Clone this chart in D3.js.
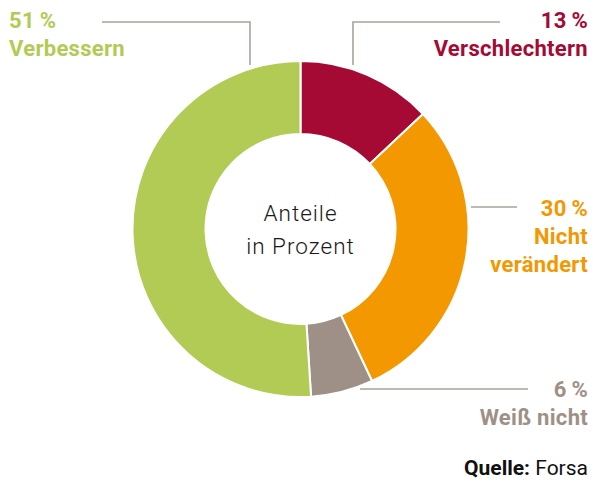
<!DOCTYPE html>
<html lang="de">
<head>
<meta charset="utf-8">
<script src="https://cdn.jsdelivr.net/npm/d3@7"></script>
<style>
  html, body { margin: 0; padding: 0; background: #fff; }
  svg { display: block; font-family: Roboto, "Liberation Sans", Arial, sans-serif; }
</style>
</head>
<body>
<svg id="chart" width="593" height="482"></svg>
<script>
// Survey shares, clockwise from 12 o'clock
const categories = ["Verschlechtern", "Nicht verändert", "Weiß nicht", "Verbessern"];
const shares = [13, 30, 6, 51];
const colors = ["#a50a35", "#f39800", "#9e9087", "#b1cb55"];
const labelLines = [["Verschlechtern"], ["Nicht", "verändert"], ["Weiß nicht"], ["Verbessern"]];

const svg = d3.select("#chart");
const cx = 300.5, cy = 229, outerR = 168, innerR = 95;

const pie = d3.pie().sort(null).value(d => d.value);
const arcs = pie(categories.map((c, i) => ({ name: c, value: shares[i], color: colors[i], lines: labelLines[i] })));
const arc = d3.arc().innerRadius(innerR).outerRadius(outerR);

const g = svg.append("g").attr("transform", `translate(${cx},${cy})`);
g.selectAll("path.slice")
  .data(arcs)
  .join("path")
  .attr("class", "slice")
  .attr("d", arc)
  .attr("fill", d => d.data.color)
  .attr("stroke", "#fff")
  .attr("stroke-width", 2);

// Centre caption
const centre = g.append("text")
  .attr("text-anchor", "middle")
  .attr("font-size", 22.5)
  .attr("font-weight", 300)
  .attr("letter-spacing", 1)
  .attr("fill", "#1a1a1a");
centre.append("tspan").attr("x", 0).attr("y", -8).text("Anteile");
centre.append("tspan").attr("x", 0).attr("y", 25).text("in Prozent");

// Leader lines (absolute page coordinates)
const lineColor = "#aaa29b";
const leaders = [
  [[500, 22], [353, 22], [353, 65]],     // Verschlechtern
  [[517, 207], [471, 207]],              // Nicht verändert
  [[528, 389], [360, 389]],              // Weiß nicht
  [[102, 22], [250, 22], [250, 65]]      // Verbessern
];
svg.selectAll("path.leader")
  .data(leaders)
  .join("path")
  .attr("class", "leader")
  .attr("d", d3.line())
  .attr("fill", "none")
  .attr("stroke", lineColor)
  .attr("stroke-width", 1.6);

// Outside labels: percentage + category
const labelPos = [
  { x: 588, y: 28, anchor: "end" },
  { x: 588, y: 216, anchor: "end" },
  { x: 588, y: 397, anchor: "end" },
  { x: 9, y: 28, anchor: "start" }
];
arcs.forEach((a, i) => {
  const p = labelPos[i];
  const t = svg.append("text")
    .attr("text-anchor", p.anchor)
    .attr("font-size", 22)
    .attr("font-weight", 700)
    .attr("letter-spacing", 0.3)
    .attr("fill", a.data.color);
  t.append("tspan").attr("x", p.x).attr("y", p.y).text(a.data.value + "\u2009%");
  a.data.lines.forEach((ln, k) => {
    t.append("tspan").attr("x", p.x).attr("y", p.y + 28 * (k + 1)).text(ln);
  });
});

// Source
const src = svg.append("text")
  .attr("x", 588).attr("y", 475)
  .attr("text-anchor", "end")
  .attr("font-size", 21)
  .attr("fill", "#111");
src.append("tspan").attr("font-weight", 700).text("Quelle:");
src.append("tspan").attr("font-weight", 400).text(" Forsa");
</script>
</body>
</html>
